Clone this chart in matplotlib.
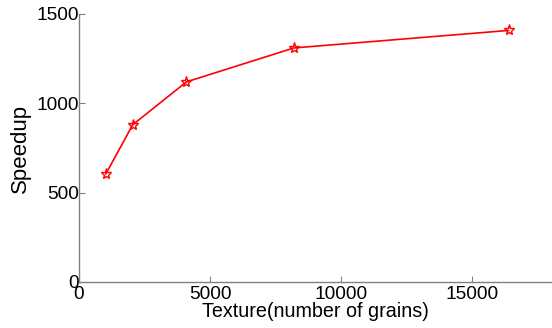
import matplotlib
matplotlib.use("Agg")
import matplotlib.pyplot as plt

grains = [1024, 2048, 4096, 8192, 16384]
speedup = [605, 880, 1120, 1310, 1408]
xticks = [0, 5000, 10000, 15000]
yticks = [0, 500, 1000, 1500]

plt.rcParams['font.family'] = ['Liberation Sans', 'DejaVu Sans']

fig = plt.figure(figsize=(5.52, 3.28), dpi=100)
ax = fig.add_axes([79/552, 46/328, 472/552, 268/328])
ax.plot(grains, speedup, color='#ff0000', linewidth=1.2, marker='*',
        markersize=8, markerfacecolor='none', markeredgecolor='#ff0000', markeredgewidth=1.0)
ax.set_xlim(0, 18000)
ax.set_ylim(0, 1500)
ax.set_xticks(xticks)
ax.set_yticks(yticks)
ax.set_xticklabels([str(v) for v in xticks])
ax.set_yticklabels([str(v) for v in yticks])
for s in ['top', 'right']:
    ax.spines[s].set_visible(False)
for s in ['left', 'bottom']:
    ax.spines[s].set_color('#808080')
    ax.spines[s].set_linewidth(1.0)
ax.tick_params(direction='in', length=4, color='#808080', labelsize=13.8)
ax.tick_params(axis='x', pad=3)
ax.tick_params(axis='y', pad=0)
ax.set_xlabel('Texture(number of grains)', fontsize=14.2, labelpad=-1)
ax.set_ylabel('Speedup', fontsize=16, labelpad=4)
fig.savefig('out.png', dpi=100)
